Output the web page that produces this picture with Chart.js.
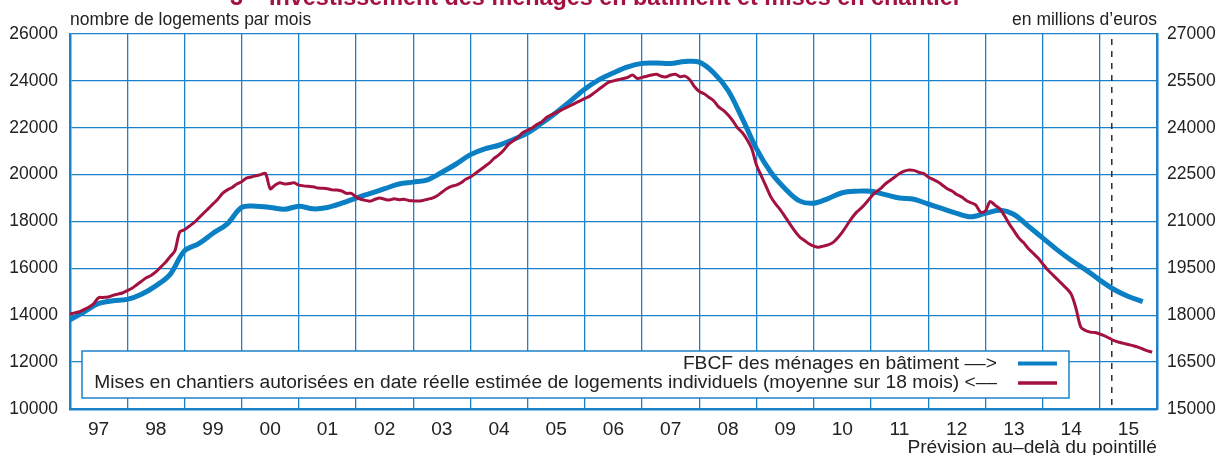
<!DOCTYPE html>
<html lang="fr">
<head>
<meta charset="utf-8">
<title>Investissement des ménages en bâtiment et mises en chantier</title>
<script src="https://cdn.jsdelivr.net/npm/chart.js@4.4.1/dist/chart.umd.min.js"></script>
<style>
  html, body { margin: 0; padding: 0; background: #fff; }
  #wrap { width: 1219px; height: 455px; }
</style>
</head>
<body>
<div id="wrap"><canvas id="chart" width="1219" height="455"></canvas></div>
<script>
const firstYear = 1997;
const lastYear = 2016;
const yearLabels = ['97', '98', '99', '00', '01', '02', '03', '04', '05', '06',
                    '07', '08', '09', '10', '11', '12', '13', '14', '15'];
const forecastStart = 2015.21;

// FBCF des ménages en bâtiment, trimestriel, en millions d'euros (axe de droite)
const fbcfValues = [
    17850, 18110, 18375, 18465,   // 1997
    18510, 18675, 18940, 19310,   // 1998
    20060, 20290, 20625, 20925,   // 1999
    21450, 21490, 21450, 21390,   // 2000
    21490, 21405, 21450, 21585,   // 2001
    21750, 21900, 22050, 22200,   // 2002
    22260, 22335, 22575, 22840,   // 2003
    23140, 23325, 23440, 23625,   // 2004
    23835, 24150, 24490, 24860,   // 2005
    25240, 25540, 25760, 25950,   // 2006
    26060, 26070, 26055, 26120,   // 2007
    26100, 25760, 25200, 24300,   // 2008
    23325, 22575, 22050, 21660,   // 2009
    21585, 21735, 21920, 21970,   // 2010
    21970, 21860, 21750, 21710,   // 2011
    21560, 21410, 21260, 21150,   // 2012
    21260, 21360, 21225, 20850,   // 2013
    20475, 20100, 19760, 19460,   // 2014
    19125, 18825, 18600, 18435    // 2015
];

// Mises en chantier de logements individuels, mensuel (axe de gauche)
const misesValues = [
    14050, 14100, 14150, 14250, 14350, 14500, 14750, 14760, 14780, 14850, 14900, 14950, // 1997
    15050, 15150, 15300, 15450, 15600, 15700, 15850, 16050, 16250, 16500, 16750, 17550, // 1998
    17650, 17800, 17950, 18150, 18350, 18550, 18750, 18950, 19200, 19350, 19450, 19600, // 1999
    19700, 19850, 19900, 19950, 20000, 20050, 19400, 19550, 19650, 19600, 19620, 19650, // 2000
    19550, 19520, 19500, 19480, 19430, 19420, 19400, 19350, 19340, 19300, 19200, 19200, // 2001
    19050, 18950, 18900, 18870, 18950, 19000, 18950, 18920, 18970, 18930, 18950, 18900, // 2002
    18880, 18870, 18900, 18950, 19000, 19100, 19250, 19400, 19500, 19550, 19650, 19800, // 2003
    19900, 20050, 20200, 20350, 20500, 20700, 20850, 21050, 21300, 21450, 21600, 21800, // 2004
    21900, 22000, 22150, 22250, 22450, 22550, 22650, 22750, 22850, 22950, 23050, 23150, // 2005
    23250, 23350, 23500, 23650, 23800, 23950, 24000, 24050, 24100, 24150, 24250, 24100, // 2006
    24150, 24200, 24250, 24280, 24200, 24170, 24250, 24280, 24180, 24200, 24050, 23750, // 2007
    23550, 23450, 23300, 23150, 22900, 22750, 22550, 22300, 22000, 21800, 21500, 21100, // 2008
    20400, 19950, 19500, 19050, 18750, 18500, 18200, 17900, 17600, 17350, 17200, 17050, // 2009
    16950, 16900, 16950, 17000, 17100, 17300, 17550, 17850, 18150, 18400, 18580, 18800, // 2010
    19050, 19250, 19400, 19600, 19750, 19900, 20050, 20150, 20200, 20180, 20100, 20050, // 2011
    19900, 19800, 19700, 19550, 19400, 19300, 19150, 19050, 18900, 18800, 18700, 18400, // 2012
    18450, 18850, 18700, 18550, 18250, 17900, 17600, 17300, 17100, 16850, 16650, 16450, // 2013
    16200, 15950, 15750, 15550, 15350, 15150, 14900, 14300, 13500, 13350, 13280, 13260, // 2014
    13200, 13120, 13020, 12920, 12850, 12800, 12750, 12700, 12640, 12560, 12480, 12430  // 2015
];

const BLUE = '#0a7fc4';
const RED = '#a3113f';
const GRID = '#1b82c9';
const TEXT = '#222222';
const FONT = "'Liberation Sans', Arial, Helvetica, sans-serif";
const FS = 17.5;      // y ticks, unit labels
const FS_BIG = 19.2;  // legend, x labels, note

Chart.defaults.font.family = FONT;
Chart.defaults.font.size = FS;
Chart.defaults.color = TEXT;

// texts and boxes that sit around the plot
const decor = {
    id: 'decor',
    beforeDatasetsDraw(chart) {
        const ctx = chart.ctx;
        const area = chart.chartArea;
        const x = chart.scales.x;

        // legend box
        ctx.save();
        const bx = area.left + 12, by = area.top + 317, bw = 987, bh = 47;
        ctx.fillStyle = '#fff';
        ctx.fillRect(bx, by, bw, bh);
        ctx.strokeStyle = GRID;
        ctx.lineWidth = 1.5;
        ctx.strokeRect(bx, by, bw, bh);

        const ds = chart.data.datasets;
        const rows = [ds[1], ds[0]];
        ctx.font = FS_BIG + 'px ' + FONT;
        ctx.fillStyle = TEXT;
        ctx.textAlign = 'right';
        ctx.textBaseline = 'middle';
        rows.forEach((d, i) => {
            const ly = by + 12.5 + i * 19.5;
            ctx.fillText(d.legendText, bx + 915, ly);
            ctx.strokeStyle = d.borderColor;
            ctx.lineWidth = i === 0 ? 4 : 3.5;
            ctx.beginPath();
            ctx.moveTo(bx + 936, ly);
            ctx.lineTo(bx + 975, ly);
            ctx.stroke();
        });

        // forecast dotted line
        const fx = x.getPixelForValue(forecastStart);
        ctx.strokeStyle = '#111';
        ctx.lineWidth = 1.3;
        ctx.setLineDash([6, 6]);
        ctx.beginPath();
        ctx.moveTo(fx, area.top + 5);
        ctx.lineTo(fx, area.bottom);
        ctx.stroke();
        ctx.restore();
    },
    afterDraw(chart) {
        const ctx = chart.ctx;
        const area = chart.chartArea;
        ctx.save();
        ctx.textBaseline = 'alphabetic';
        ctx.fillStyle = RED;
        ctx.font = 'bold 23.4px ' + FONT;
        ctx.textAlign = 'center';
        ctx.fillText('3 – Investissement des ménages en bâtiment et mises en chantier', 596, 5);

        ctx.fillStyle = TEXT;
        ctx.font = FS + 'px ' + FONT;
        ctx.textAlign = 'left';
        ctx.fillText('nombre de logements par mois', area.left, area.top - 9);
        ctx.textAlign = 'right';
        ctx.fillText('en millions d\u2019euros', area.right, area.top - 9);
        ctx.restore();
    }
};

new Chart(document.getElementById('chart'), {
    type: 'line',
    data: {
        datasets: [{
            label: 'Mises en chantiers',
            legendText: 'Mises en chantiers autorisées en date réelle estimée de logements individuels (moyenne sur 18 mois) <––',
            data: misesValues.map((v, i) => ({ x: firstYear + i / 12, y: v })),
            yAxisID: 'y',
            borderColor: RED,
            borderWidth: 3,
            pointRadius: 0,
            tension: 0.3,
            order: 0
        }, {
            label: 'FBCF',
            legendText: 'FBCF des ménages en bâtiment ––>',
            data: fbcfValues.map((v, i) => ({ x: firstYear + i / 4, y: v })),
            yAxisID: 'y1',
            borderColor: BLUE,
            borderWidth: 5,
            pointRadius: 0,
            tension: 0.35,
            order: 1
        }]
    },
    options: {
        responsive: false,
        animation: false,
        devicePixelRatio: 1,
        layout: { padding: { top: 34, left: 0, right: 0, bottom: 0 } },
        plugins: { legend: { display: false }, tooltip: { enabled: false } },
        scales: {
            x: {
                type: 'linear',
                min: firstYear,
                max: lastYear,
                afterBuildTicks: (scale) => {
                    const t = [];
                    for (let y = firstYear; y <= lastYear; y++) {
                        t.push({ value: y });
                        if (y < lastYear) t.push({ value: y + 0.5 });
                    }
                    scale.ticks = t;
                },
                afterFit: (scale) => { scale.height = 46; },
                ticks: {
                    autoSkip: false,
                    maxRotation: 0,
                    minRotation: 0,
                    padding: 9,
                    font: { size: FS_BIG },
                    callback: (v) => Number.isInteger(v) ? '' : yearLabels[Math.floor(v) - firstYear]
                },
                grid: {
                    drawTicks: false,
                    lineWidth: 1.3,
                    color: (c) => (c.tick && Number.isInteger(c.tick.value)) ? GRID : 'rgba(0,0,0,0)'
                },
                border: { color: GRID, width: 2.5 },
                title: {
                    display: true,
                    text: 'Prévision au–delà du pointillé',
                    align: 'end',
                    color: TEXT,
                    font: { size: FS_BIG, lineHeight: 0.75 },
                    padding: 0
                }
            },
            y: {
                position: 'left',
                min: 10000,
                max: 26000,
                afterFit: (scale) => { scale.width = 70; },
                ticks: { stepSize: 2000, padding: 12, callback: (v) => String(v) },
                grid: { drawTicks: false, lineWidth: 1.3, color: GRID },
                border: { color: GRID, width: 2.5 }
            },
            y1: {
                position: 'right',
                min: 15000,
                max: 27000,
                afterFit: (scale) => { scale.width = 62; },
                ticks: { stepSize: 1500, padding: 10, callback: (v) => String(v) },
                grid: { drawOnChartArea: false, drawTicks: false },
                border: { color: GRID, width: 2.5 }
            }
        }
    },
    plugins: [decor]
});
</script>
</body>
</html>
